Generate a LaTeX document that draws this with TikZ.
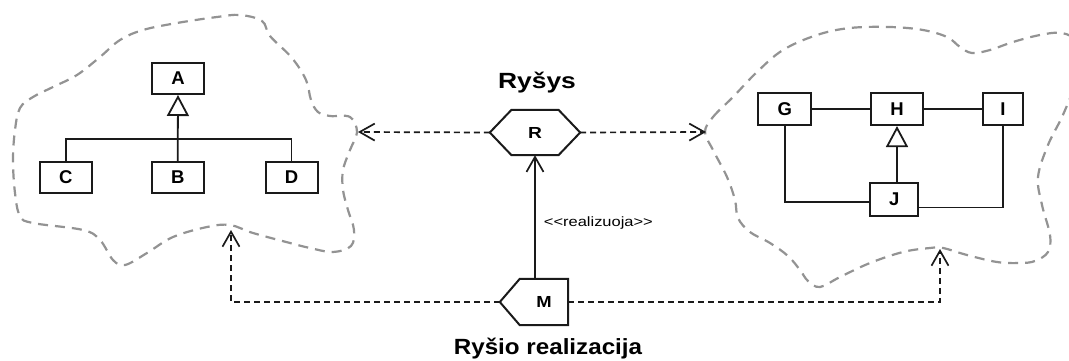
\documentclass[tikz,border=0pt]{standalone}
\usepackage{fontspec}
\setmainfont{Liberation Sans}
\usetikzlibrary{arrows.meta}
\definecolor{cloudgray}{HTML}{939393}
\definecolor{ink}{HTML}{1A1A1A}
\begin{document}
\begin{tikzpicture}[x=1pt,y=-1pt,
  cls/.style={draw=ink,line width=2pt,fill=white,minimum width=52pt,minimum height=31pt,inner sep=0pt,font=\fontsize{18.5}{18.5}\selectfont\bfseries},
  cloud/.style={draw=cloudgray,line width=2.2pt,dash pattern=on 10pt off 7pt},
  solidln/.style={draw=ink,line width=1.8pt},
  dep/.style={draw=ink,line width=1.7pt,dash pattern=on 6pt off 4pt},
  vhead/.style={-{Straight Barb[length=15pt,width=17pt,line width=1.7pt]}},
  gen/.style={-{Triangle[open,fill=white,length=21pt,width=22pt,line width=1.8pt]}},
  title/.style={font=\fontsize{22}{22}\selectfont\bfseries,inner sep=0pt},
  ptxt/.style={font=\fontsize{16}{16}\selectfont\bfseries,inner sep=0pt}
]
\useasboundingbox (0,0) rectangle (1069,361);
\clip (0,0) rectangle (1069,361);
\fill[white] (0,0) rectangle (1069,361);

% clouds
\draw[cloud] plot[smooth cycle,tension=0.6] coordinates {
 (240,15) (262,21) (270,36) (292,58) (306,80) (311,100) (318,112) (330,116) (350,117)
 (357,132) (350,150) (343,170) (343,190) (348,210) (354,230) (351,246) (333,252)
 (310,248) (290,243) (253,233) (230,225) (207,227) (173,237) (147,253) (125,265)
 (113,260) (100,240) (83,230) (33,223) (20,216) (15,193) (13,160) (15,130) (20,108)
 (33,97) (53,87) (77,75) (100,57) (120,40) (143,30) (177,23) (217,17)};
\draw[cloud] plot[smooth cycle,tension=0.6] coordinates {
 (705,132) (713,117) (733,97) (757,72) (783,50) (817,35) (850,28) (890,27) (923,30)
 (947,37) (960,47) (972,53) (990,50) (1013,42) (1040,35) (1062,33) (1078,42) (1083,62)
 (1074,88) (1062,117) (1048,145) (1038,177) (1042,205) (1050,235) (1048,252) (1035,261)
 (1020,263) (997,262) (967,255) (943,248) (930,248) (903,252) (870,263) (840,277)
 (820,287) (808,281) (800,270) (788,256) (770,243) (750,232) (738,218) (735,200)
 (727,177) (713,150)};

% left group
\node[cls] (A) at (178,78.5) {A};
\node[cls] (C) at (65.7,177.5) {C};
\node[cls] (B) at (177.7,177.5) {B};
\node[cls] (D) at (291.5,177.5) {D};
\coordinate (bar) at (178,139);
\draw[solidln] (C.north) |- (bar) -| (D.north);
\draw[solidln,gen] (B.north) -- (A.south);

% right group
\node[cls,minimum width=52.7pt,minimum height=31.7pt] (G) at (784.7,109.2) {G};
\node[cls,minimum width=52.6pt,minimum height=31.7pt] (H) at (897,109.2) {H};
\node[cls,minimum width=40.6pt,minimum height=31.7pt] (I) at (1003,109.2) {I};
\node[cls,minimum width=48pt,minimum height=33pt] (J) at (894.3,199.5) {J};
\draw[solidln] (G.east) -- (H.west);
\draw[solidln] (H.east) -- (I.west);
\draw[solidln] (G.south) |- ([yshift=-2.5pt]J.west);
\draw[solidln] (I.south) |- ([yshift=-8pt]J.east);
\draw[solidln,gen] (J.north -| H.south) -- (H.south);

% relation R
\node[ptxt,minimum width=90pt,minimum height=45pt] (R) at (535,132.5) {\scalebox{1.2}[1]{R}};
\draw[solidln,line width=2pt,line join=miter] (R.west) -- ([xshift=21.7pt]R.north west) -- ([xshift=-21.7pt]R.north east)
  -- (R.east) -- ([xshift=-21.7pt]R.south east) -- ([xshift=21.7pt]R.south west) -- cycle;
\node[title] (ttl) at (537,83) {\scalebox{1.2}[1]{Ryšys}};

% realization M
\node[ptxt,minimum width=48pt,minimum height=46pt] (M) at (544,302) {\scalebox{1.15}[1]{M}};
\coordinate (Mtip) at ([xshift=-20pt]M.west);
\draw[solidln,line width=2pt,line join=miter] (Mtip) -- (M.north west) -- (M.north east) -- (M.south east) -- (M.south west) -- cycle;
\node[title] (ttl2) at (548,348.5) {\scalebox{1.1}[1]{Ryšio realizacija}};

% connectors
\coordinate (lt) at (358,132);
\coordinate (rt) at (706,132);
\coordinate (lb) at (231,230);
\coordinate (rb) at (940,249);
\draw[dep,vhead] (R.west) -- (lt);
\draw[dep,vhead] (R.east) -- (rt);
\draw[solidln,vhead] (M.north -| R.south) -- (R.south)
  node[pos=0.45,right=8pt,inner sep=0pt,font=\fontsize{13.5}{13.5}\selectfont] (lbl) {\scalebox{1.22}[1]{<{}<realizuoja>{}>}};
\draw[dep,vhead] (Mtip) -| (lb);
\draw[dep,vhead] (M.east) -| (rb);
\end{tikzpicture}
\end{document}
